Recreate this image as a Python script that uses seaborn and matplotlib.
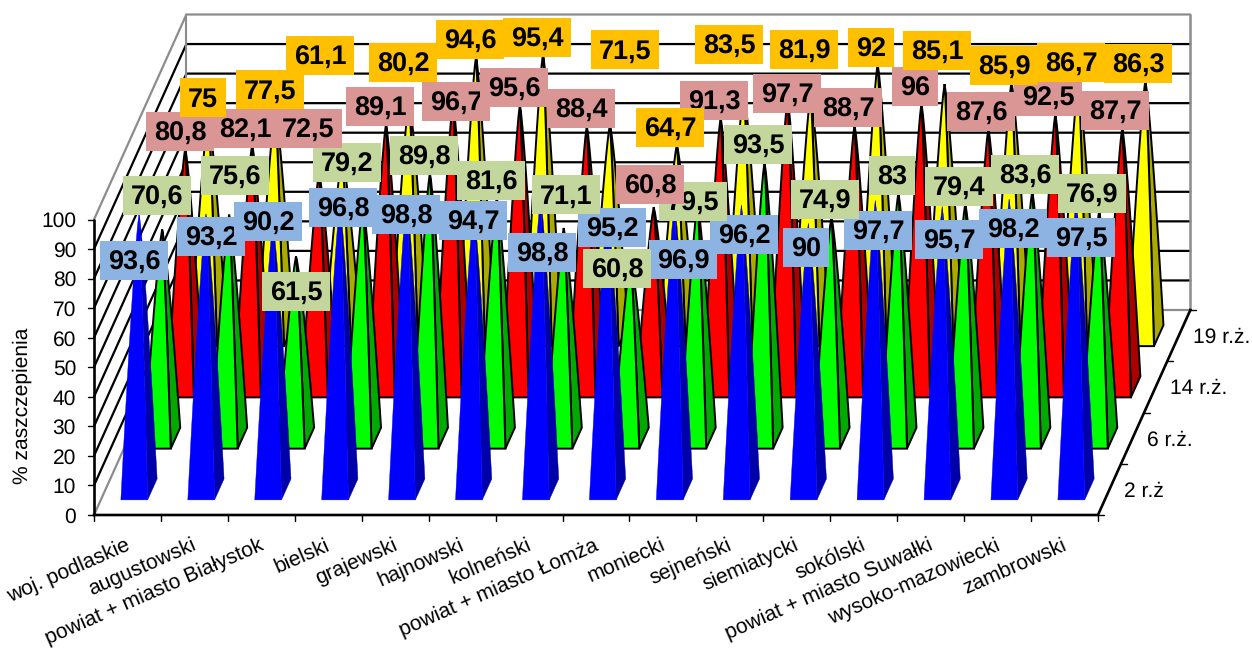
import matplotlib
matplotlib.use("Agg")
import matplotlib.pyplot as plt
from matplotlib.patches import Polygon, Rectangle
import numpy as np
import pandas as pd
import seaborn as sns

# Vaccination coverage by county and age cohort
counties = ["woj. podlaskie", "augustowski", "powiat + miasto Białystok", "bielski",
            "grajewski", "hajnowski", "kolneński", "powiat + miasto Łomża", "moniecki",
            "sejneński", "siemiatycki", "sokólski", "powiat + miasto Suwałki",
            "wysoko-mazowiecki", "zambrowski"]
cohorts = ["2 r.ż", "6 r.ż.", "14 r.ż.", "19 r.ż."]
age_2 = [93.6, 93.2, 90.2, 96.8, 98.8, 94.7, 98.8, 95.2, 96.9, 96.2, 90, 97.7, 95.7, 98.2, 97.5]
age_6 = [70.6, 75.6, 61.5, 79.2, 89.8, 81.6, 71.1, 60.8, 79.5, 93.5, 74.9, 83, 79.4, 83.6, 76.9]
age_14 = [80.8, 82.1, 72.5, 89.1, 96.7, 95.6, 88.4, 60.8, 91.3, 97.7, 88.7, 96, 87.6, 92.5, 87.7]
age_19 = [75, 77.5, 61.1, 80.2, 94.6, 95.4, 71.5, 64.7, 83.5, 81.9, 92, 85.1, 85.9, 86.7, 86.3]
value_ticks = list(range(0, 101, 10))

# Hand-placed label box centres, in figure pixels
label_x = [
    [134, 211, 268, 343, 406, 473, 542, 612, 683, 744, 806, 878, 949, 1013, 1081],
    [157, 235, 296, 347, 424, 491, 566, 617, 693, 758, 825, 892, 959, 1025, 1092],
    [180, 245, 308, 380, 456, 514, 581, 650, 714, 787, 848, 915, 981, 1048, 1115],
    [203, 270, 320, 403, 470, 537, 625, 670, 729, 804, 871, 937, 1004, 1071, 1138],
]
label_y = [
    [260, 236.5, 221.5, 207.5, 214.5, 220.5, 252.5, 227.5, 259.5, 234.5, 247.5, 230.5, 239.5, 228.5, 237.5],
    [195.5, 175.5, 291.5, 162.5, 155.5, 180.5, 194.5, 268.5, 201.5, 144.5, 199.5, 175.5, 186.5, 174.5, 193.5],
    [131.5, 128, 128.5, 106.5, 101.5, 87.5, 108.5, 184.5, 100.5, 93.5, 107.5, 86.5, 111.5, 96.5, 110.5],
    [97.5, 89.5, 55.5, 62.5, 39.5, 37.5, 49.5, 127.5, 44.5, 49.5, 47.5, 50.5, 65.5, 62.5, 63.5],
]

sns.set_theme(style="white")
plt.rcParams["font.family"] = ["Liberation Sans", "DejaVu Sans"]
plt.rcParams["text.hinting"] = "none"
plt.rcParams["text.hinting_factor"] = 1

front_colors = ["#0000FF", "#00FF00", "#FF0000", "#FFFF00"]
side_colors = ["#0000AA", "#00AA00", "#AA0000", "#AAAA00"]
label_colors = ["#8DB3E2", "#C3D69B", "#D99694", "#FFC000"]
edge_colors = [None, "black", "black", "black"]

df = pd.DataFrame({"county": counties, cohorts[0]: age_2, cohorts[1]: age_6,
                   cohorts[2]: age_14, cohorts[3]: age_19})
long_df = df.melt(id_vars="county", var_name="cohort", value_name="pct")
long_df["cat"] = long_df["county"].map({c: i for i, c in enumerate(counties)})
long_df["row"] = long_df["cohort"].map({c: i for i, c in enumerate(cohorts)})

# Oblique projection of the chart box onto the figure
ORIGIN_X, ORIGIN_Y = 94.0, 515.0
CAT_STEP = 66.93
DEPTH_DX, DEPTH_DY = 23.1, -51.25
UNIT_Y = -2.955
HALF_W, HALF_D = 0.20, 0.205
TAPER = 0.8
TICK_FONT = 15.4


def project(cat, row, value):
    return (ORIGIN_X + cat * CAT_STEP + row * DEPTH_DX,
            ORIGIN_Y + row * DEPTH_DY + value * UNIT_Y)


def spire(cx, cd, du, dv, pct):
    """Trace one slightly bulging pyramid edge from a base corner up to the apex."""
    pts = []
    for t in np.linspace(0, 1, 25):
        shrink = (1 - t) ** TAPER
        pts.append(project(cx + du * HALF_W * shrink, cd + dv * HALF_D * shrink, pct * t))
    return pts


fig = plt.figure(figsize=(12.52, 6.48), dpi=100, facecolor="white")
ax = fig.add_axes([0, 0, 1, 1])
ax.set_xlim(0, 1252)
ax.set_ylim(648, 0)
ax.axis("off")

n_cat, n_row = len(counties), len(cohorts)
GREY = "#8C8C8C"

# Gridlines on the back and side walls
for v in value_ticks:
    col = GREY if v in (0, 100) else "black"
    a, b, c = project(0, 0, v), project(0, n_row, v), project(n_cat, n_row, v)
    ax.plot([a[0], b[0], c[0]], [a[1], b[1], c[1]], color=col, lw=1.6, zorder=1,
            solid_joinstyle="miter")
b0, b1 = project(0, n_row, 0), project(0, n_row, 100)
ax.plot([b0[0], b1[0]], [b0[1], b1[1]], color=GREY, lw=1.5, zorder=1)
b0, b1 = project(n_cat, n_row, 0), project(n_cat, n_row, 100)
ax.plot([b0[0], b1[0]], [b0[1], b1[1]], color=GREY, lw=1.8, zorder=1)

# Floor edges, axes and tick marks
p0, p1, p2 = project(0, 0, 0), project(n_cat, 0, 0), project(n_cat, n_row, 0)
ax.plot([p0[0], p1[0], p2[0]], [p0[1], p1[1], p2[1]], color="black", lw=1.9, zorder=2,
        solid_capstyle="projecting")
top = project(0, 0, 100)
ax.plot([p0[0], top[0]], [p0[1], top[1]], color="black", lw=1.9, zorder=2)
for v in value_ticks:
    x, y = project(0, 0, v)
    ax.plot([x - 6, x], [y, y], color="black", lw=1.0, zorder=2)
    ax.text(x - 18, y, str(v), ha="right", va="center_baseline", fontsize=TICK_FONT, color="black")
for i in range(n_cat + 1):
    x, y = project(i, 0, 0)
    ax.plot([x, x], [y, y + 6], color="black", lw=1.0, zorder=2)
for j in range(n_row + 1):
    x, y = project(n_cat, j, 0)
    ax.plot([x, x + 6], [y, y], color="black", lw=1.0, zorder=2)

# Pyramids, from the back row forward so nearer ones overlap farther ones
order = 10
for row in reversed(range(n_row)):
    sub = long_df[long_df["row"] == row].sort_values("cat")
    for cat, pct in zip(sub["cat"], sub["pct"]):
        cx, cd = cat + 0.5, row + 0.5
        left_edge = spire(cx, cd, -1, -1, pct)
        right_edge = spire(cx, cd, 1, -1, pct)
        back_edge = spire(cx, cd, 1, 1, pct)
        edge = edge_colors[row]
        faces = ((right_edge + back_edge[::-1], side_colors[row]),
                 (left_edge + right_edge[::-1], front_colors[row]))
        for pts, face in faces:
            ax.add_patch(Polygon(pts, closed=True, facecolor=face,
                                 edgecolor=edge if edge else face,
                                 lw=1.4 if edge else 0.3, joinstyle="miter", zorder=order))
            order += 1

# Value labels: later cohorts sit above earlier ones
BOX_H = 39
for row, values in enumerate([age_2, age_6, age_14, age_19]):
    for v, cx, cy in zip(values, label_x[row], label_y[row]):
        text = f"{v:g}".replace(".", ",")
        w = 46 if len(text) == 2 else 68
        ax.add_patch(Rectangle((cx - w / 2, cy - BOX_H / 2), w, BOX_H, facecolor=label_colors[row],
                               edgecolor="none", zorder=order))
        ax.text(cx, cy + 9.5, text, ha="center", va="baseline", fontsize=19.6, fontweight="bold",
                color="black", zorder=order + 1)
        order += 2

# Axis titles and category labels
ax.text(22, 406, "% zaszczepienia", rotation=90, ha="center", va="center", fontsize=TICK_FONT, color="black")
for i, name in enumerate(counties):
    x, y = project(i + 0.5, 0, 0)
    ax.text(x + 1, y + 29, name, rotation=23.7, rotation_mode="anchor", ha="right", va="center",
            fontsize=15.1, color="black")
for j, name in enumerate(cohorts):
    x, y = project(n_cat, j + 0.5, 0)
    ax.text(x + 14, y, name, ha="left", va="center_baseline", fontsize=TICK_FONT, color="black")

fig.savefig("out.png", dpi=100)
